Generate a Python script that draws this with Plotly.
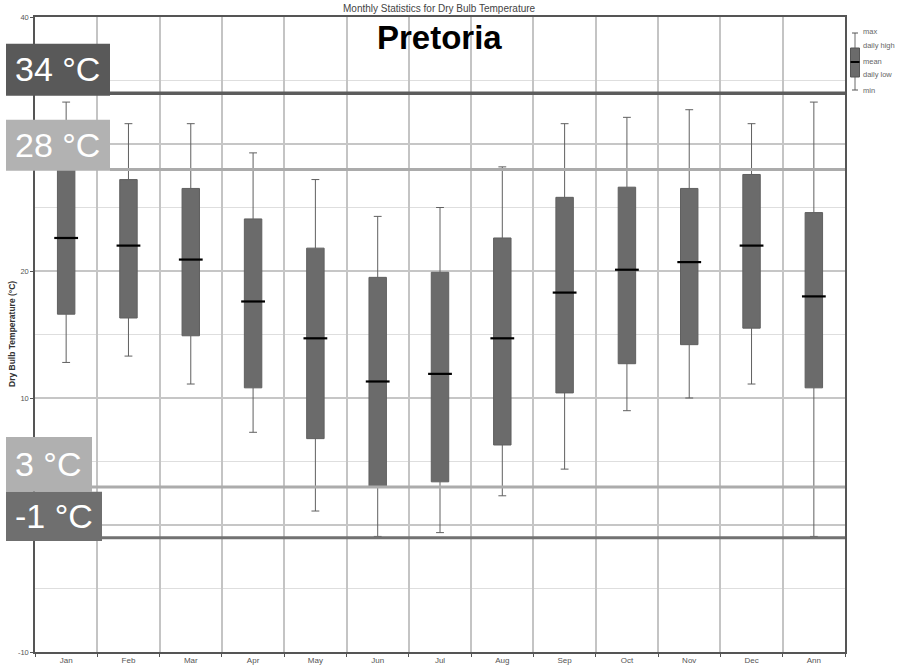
import plotly.graph_objects as go

# Monthly dry bulb temperature statistics for Pretoria (°C)
months = ["Jan", "Feb", "Mar", "Apr", "May", "Jun", "Jul", "Aug", "Sep", "Oct", "Nov", "Dec", "Ann"]
t_max = [33.3, 31.6, 31.6, 29.3, 27.2, 24.3, 25.0, 28.2, 31.6, 32.1, 32.7, 31.6, 33.3]
t_high = [28.6, 27.2, 26.5, 24.1, 21.8, 19.5, 19.9, 22.6, 25.8, 26.6, 26.5, 27.6, 24.6]
t_mean = [22.6, 22.0, 20.9, 17.6, 14.7, 11.3, 11.9, 14.7, 18.3, 20.1, 20.7, 22.0, 18.0]
t_low = [16.6, 16.3, 14.9, 10.8, 6.8, 3.0, 3.4, 6.3, 10.4, 12.7, 14.2, 15.5, 10.8]
t_min = [12.8, 13.3, 11.1, 7.3, 1.1, -0.9, -0.6, 2.3, 4.4, 9.0, 10.0, 11.1, -0.9]

# y ticks: labels at 30 and 0 sit beneath the highlight boxes, so they are left blank
y_tickvals = [-10, 0, 10, 20, 30, 40]
y_ticktext = ["-10", "", "10", "20", "", "40"]

# Reference temperatures highlighted across the chart
ref_temps = [34, 28, 3, -1]
ref_labels = ["34 °C", "28 °C", "3 °C", "-1 °C"]
ref_fill = ["#595959", "#b2b2b2", "#b0b0b0", "#6f6f6f"]
ref_line = ["#5c5c5c", "#ababab", "#acacac", "#727272"]

legend_items = ["max", "daily high", "mean", "daily low", "min"]

W, H = 902, 667
L, R, T, B = 35, 57, 17, 15
PW, PH = W - L - R, H - T - B


def px(xp):
    return (xp - L) / PW


def py(yp):
    return (H - B - yp) / PH


fig = go.Figure()

fig.add_trace(go.Box(
    x=months, q1=t_low, median=t_mean, q3=t_high,
    lowerfence=t_min, upperfence=t_max,
    fillcolor="#6b6b6b", line=dict(color="#606060", width=1),
    whiskerwidth=0.45, width=0.28, hoverinfo="skip", showlegend=False,
))

fig.add_trace(go.Scatter(
    x=months, y=t_mean, mode="markers", hoverinfo="skip", showlegend=False,
    marker=dict(symbol="line-ew", size=17, color="black",
                line=dict(color="black", width=2.2)),
))

shapes = []
annotations = []

# Highlight lines with their labelled boxes
box_right = [110, 110, 92, 102]
for i, v in enumerate(ref_temps):
    shapes.append(dict(type="line", xref="paper", yref="y",
                       x0=px(box_right[i]), x1=1, y0=v, y1=v,
                       line=dict(color=ref_line[i], width=3.5 if i == 0 else 3),
                       layer="above"))
# box extents (data units) around each line
box_spans = [
    (ref_temps[0] - 0.2, ref_temps[0] + 3.9),
    (ref_temps[1] - 0.1, ref_temps[1] + 3.9),
    (ref_temps[3] + 3.61, ref_temps[2] + 3.92),
    (ref_temps[3] - 0.25, ref_temps[3] + 3.61),
]
for i, lab in enumerate(ref_labels):
    y0, y1 = box_spans[i]
    shapes.append(dict(type="rect", xref="paper", yref="y",
                       x0=px(6), x1=px(box_right[i]), y0=y0, y1=y1,
                       fillcolor=ref_fill[i], line=dict(width=0), layer="above"))
    annotations.append(dict(
        xref="paper", yref="y", x=px(13), y=(y0 + y1) / 2 + 0.05,
        xanchor="left", yanchor="middle", text=lab, showarrow=False,
        font=dict(family="Liberation Sans, Arial, sans-serif", size=34, color="white"),
    ))

# Legend glyph
lx = 855
shapes += [
    dict(type="line", xref="paper", yref="paper", x0=px(lx), x1=px(lx), y0=py(33), y1=py(90),
         line=dict(color="#6a6a6a", width=1)),
    dict(type="line", xref="paper", yref="paper", x0=px(lx - 3), x1=px(lx + 3), y0=py(33), y1=py(33),
         line=dict(color="#555", width=1)),
    dict(type="line", xref="paper", yref="paper", x0=px(lx - 3), x1=px(lx + 3), y0=py(90), y1=py(90),
         line=dict(color="#555", width=1)),
    dict(type="rect", xref="paper", yref="paper", x0=px(850.5), x1=px(859.5), y0=py(77), y1=py(48),
         fillcolor="#6b6b6b", line=dict(color="#555", width=1)),
    dict(type="line", xref="paper", yref="paper", x0=px(850.5), x1=px(859.5), y0=py(62), y1=py(62),
         line=dict(color="black", width=2)),
]
for lab, yy in zip(legend_items, [32, 46, 61, 75, 90]):
    annotations.append(dict(
        xref="paper", yref="paper", x=px(861), y=py(yy), xanchor="left", yanchor="middle",
        text=lab, showarrow=False,
        font=dict(family="Liberation Sans, Arial, sans-serif", size=7.5, color="#666666"),
    ))

annotations += [
    dict(xref="paper", yref="paper", x=px(439.5), y=py(9), xanchor="center", yanchor="middle",
         text="Monthly Statistics for Dry Bulb Temperature", showarrow=False,
         font=dict(family="Liberation Sans Narrow, Arial Narrow, Liberation Sans, sans-serif",
                   size=10, color="#444")),
    dict(xref="paper", yref="paper", x=px(439), y=py(37), xanchor="center", yanchor="middle",
         text="<b>Pretoria</b>", showarrow=False,
         font=dict(family="Liberation Sans, Arial, sans-serif", size=33, color="black")),
    dict(xref="paper", yref="paper", x=px(12), y=py(334), xanchor="center", yanchor="middle",
         text="<b>Dry Bulb Temperature (°C)</b>", textangle=-90, showarrow=False,
         font=dict(family="Liberation Sans, Arial, sans-serif", size=8.5, color="#333")),
]

fig.update_layout(
    width=W, height=H,
    margin=dict(l=L, r=R, t=T, b=B),
    paper_bgcolor="white", plot_bgcolor="white",
    shapes=shapes, annotations=annotations,
    showlegend=False,
    xaxis=dict(
        type="category", range=[-0.5, 12.5], tickson="boundaries",
        showgrid=True, gridcolor="#c4c4c4", gridwidth=1.5,
        ticks="outside", ticklen=3, tickcolor="#555",
        showline=True, linecolor="#555", linewidth=1.5, mirror=True,
        tickfont=dict(family="Liberation Sans, Arial, sans-serif", size=8, color="#555"),
        automargin=False, fixedrange=True,
    ),
    yaxis=dict(
        range=[-10, 40], tickmode="array", tickvals=y_tickvals, ticktext=y_ticktext,
        showgrid=True, gridcolor="#c6c6c6", gridwidth=1.5,
        minor=dict(tickmode="linear", tick0=0, dtick=5, showgrid=True,
                   gridcolor="#dedede", gridwidth=1),
        zeroline=False,
        ticks="outside", ticklen=3, tickcolor="#555",
        showline=True, linecolor="#555", linewidth=1.5, mirror=True,
        tickfont=dict(family="Liberation Sans, Arial, sans-serif", size=7.5, color="#555"),
        automargin=False, fixedrange=True,
    ),
)

fig.write_html("out.html", config={"displayModeBar": False})
